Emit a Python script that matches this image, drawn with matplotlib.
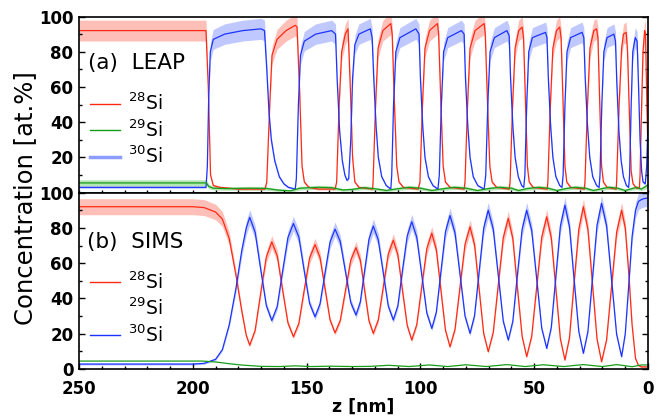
import numpy as np
import matplotlib
matplotlib.use("Agg")
import matplotlib.pyplot as plt
from matplotlib.lines import Line2D
from matplotlib.ticker import MultipleLocator

plt.rcParams['font.family'] = ['DejaVu Sans']

RED = '#ff2a14'
GREEN = '#189c18'
BLUE = '#1c34ff'
RED_BAND = '#ff8c80'
BLUE_BAND = '#8c9cff'
GREEN_BAND = '#7ad07a'

# ---- (a) LEAP ----
leap_z_28 = [250, 194.2, 193.2, 192.2, 191, 188, 180, 168.3,
             167.5, 166.2, 165.2, 163, 159, 155, 154.2, 153, 152, 151, 149, 145, 137.5,
             136.8, 135.7, 134.6, 133, 131.8, 130.8, 129.8, 128.8, 127, 121,
             120.8, 119.7, 118.6, 116.5, 113, 112.4, 111.4, 110.4, 109.4, 107.5, 101,
             100.2, 99.1, 98, 96, 92.5, 92, 91, 90, 89, 87, 80.8,
             80.4, 79.3, 78.2, 76, 72, 71.5, 70.5, 69.5, 68.5, 66.5, 61,
             60.6, 59.5, 58.4, 56.8, 55.3, 54.7, 53.8, 53, 52.2, 50.5, 44.3,
             44, 42.9, 41.8, 40.2, 38.8, 38.2, 37.3, 36.5, 35.7, 34, 28,
             27.7, 26.6, 25.5, 23.8, 22.6, 22, 21.2, 20.4, 19.6, 18, 14,
             13.8, 12.7, 11.6, 10.8, 9.6, 9, 8.2, 7.4, 6.6, 5, 3.8,
             3.5, 2.8, 2.2, 1.5, 1.1, 0.5, 0]
leap_v_28 = [92, 92, 60, 10, 4, 3, 2, 2,
             6, 50, 78, 87, 92, 95, 94, 55, 15, 6, 3, 2, 2,
             6, 50, 80, 90, 93, 60, 20, 6, 3, 2,
             6, 50, 82, 92, 96, 90, 50, 15, 6, 3, 2,
             6, 50, 82, 92, 96, 90, 50, 15, 6, 3, 2,
             6, 50, 82, 92, 96, 90, 50, 15, 6, 3, 2,
             6, 50, 82, 92, 94, 88, 50, 15, 6, 3, 2,
             6, 50, 82, 92, 94, 88, 50, 15, 6, 3, 2,
             6, 50, 82, 92, 93, 88, 50, 15, 6, 3, 2,
             6, 50, 82, 90, 91, 80, 45, 12, 5, 2.5, 2.5,
             10, 50, 80, 92, 90, 50, 20]

leap_z_30 = [250, 194.2, 193.6, 193, 192.3, 191, 186, 178, 170, 168.5, 167.5, 166.5, 165.5,
             164, 162, 160, 158, 155,
             154.5, 153.6, 152.7, 151, 146, 139, 137.3, 136.6, 135.5, 134.3, 133.2, 132.3,
             131.5, 130.6, 129.8, 128.8, 127, 122, 121.2, 120.5, 119.5, 118.5, 117, 115, 113,
             112.6, 111.8, 110.8, 109, 102, 100.6, 100, 99, 98, 96.5, 94.5, 92.3,
             91.7, 90.8, 89.8, 88, 82, 80.8, 80.2, 79.2, 78.2, 76.8, 74.8, 72,
             71.3, 70.4, 69.4, 67.5, 62, 61, 60.4, 59.4, 58.4, 57, 55.5, 54.6,
             54.1, 53.3, 52.4, 50.8, 45, 44.4, 43.8, 42.8, 41.8, 40.5, 38.8, 37.8,
             37.3, 36.5, 35.6, 34, 29, 28.2, 27.6, 26.6, 25.6, 24.3, 22.6, 21.5,
             21.1, 20.3, 19.4, 18, 15, 14.3, 13.7, 12.8, 11.8, 10.8, 9.5, 8.5,
             8.1, 7.4, 6.7, 5.6, 4.8, 4.2, 3.5, 2.8, 2.2, 1.2, 0.6, 0]
leap_v_30 = [3, 3, 15, 55, 80, 87, 90, 92, 93, 92, 70, 45, 30,
             18, 9, 5, 3, 2,
             8, 50, 78, 86, 90, 92, 90, 65, 35, 18, 10, 7,
             8, 30, 65, 84, 90, 93, 88, 65, 38, 20, 9, 4, 2,
             10, 50, 80, 88, 93, 90, 65, 38, 20, 9, 4, 2,
             10, 50, 80, 88, 92, 90, 65, 38, 20, 9, 4, 2,
             10, 50, 80, 88, 92, 89, 65, 38, 20, 9, 4, 3,
             10, 50, 80, 88, 91, 88, 65, 38, 20, 9, 4, 3,
             10, 50, 80, 88, 91, 88, 65, 38, 20, 9, 4, 3,
             10, 50, 80, 88, 90, 86, 62, 35, 18, 9, 4, 3,
             10, 50, 80, 88, 86, 62, 30, 12, 6, 5, 15, 40]

leap_z_29 = [250, 194, 193, 191, 185, 175, 168, 163, 157, 153, 145, 139, 134, 130, 125,
             120, 115, 111, 105, 100, 95, 90, 85, 80, 75, 70, 65, 60, 57, 53, 48, 44,
             40, 36, 32, 27.5, 24, 20, 17, 13.5, 10, 7, 5, 3, 1, 0]
leap_v_29 = [5.5, 5.5, 3.5, 2.5, 2.3, 2.5, 2.4, 1.5, 1.0, 2.5, 3, 2.8, 1.5, 1.8, 2.8,
             2.2, 1.2, 2, 3, 2.5, 1.2, 2.2, 3, 2.5, 1.2, 2.3, 3, 2.5, 1.2, 2.3, 3, 2.5,
             1.2, 2.3, 3, 2.5, 1.2, 2.3, 3, 2.5, 1.2, 2.3, 3, 2, 3.5, 4.5]

# ---- (b) SIMS ----
sims_z = [250, 200, 195, 190, 187, 184, 181, 178.5, 176.5, 175,
          172.6, 170.2, 167.7, 165.3, 162.9, 160.6, 158.2, 155.8,
          153.4, 151.1, 148.7, 146.3, 144.1, 141.9, 139.7, 137.5,
          135.2, 132.9, 130.6, 128.3, 126.4, 124.5, 122.6, 120.7,
          118.5, 116.3, 114.1, 111.9, 109.9, 107.9, 105.8, 103.8,
          101.6, 99.4, 97.2, 95, 93, 91, 89, 87,
          84.8, 82.6, 80.4, 78.2, 76.2, 74.2, 72.2, 70.2,
          68, 65.8, 63.6, 61.4, 59.4, 57.4, 55.3, 53.3,
          51.1, 48.9, 46.7, 44.5, 42.5, 40.5, 38.5, 36.5,
          34.5, 32.5, 30.4, 28.4, 26.4, 24.4, 22.4, 20.4,
          18.2, 16, 13.8, 11.6, 10, 8.5, 7, 5.5, 4.2, 3, 2, 0]
sims_28 = [92, 92, 91.5, 89, 85, 74, 53, 33, 19, 13.5,
           22.0, 42.8, 63.5, 72, 64.2, 45.2, 26.1, 18.3,
           25.9, 44.4, 62.9, 70.5, 63.2, 45.5, 27.8, 20.5,
           27.6, 44.7, 61.7, 68.8, 61.7, 44.5, 27.3, 20.2,
           27.9, 46.6, 65.3, 73, 64.7, 44.7, 24.7, 16.4,
           25.2, 46.7, 68.2, 77, 67.6, 44.8, 22.0, 12.6,
           22.5, 46.6, 70.7, 80.6, 70.3, 45.2, 20.1, 9.8,
           20.8, 47.6, 74.4, 85.4, 74.0, 46.2, 18.4, 7,
           18.6, 46.7, 74.7, 86.3, 74.4, 45.7, 17.0, 5.1,
           17.8, 48.6, 79.3, 92, 79.2, 48.1, 16.9, 4.1,
           16.6, 47.1, 77.5, 90, 80, 55, 25, 6, 2, 1.2, 1.2, 1.2]
sims_30 = [2.8, 2.8, 3.2, 5.5, 11, 25, 46, 67, 80, 86,
           77.5, 56.8, 36.0, 27.5, 35.5, 55, 74.5, 82.5,
           74.8, 56.1, 37.3, 29.6, 36.9, 54.5, 72.0, 79.3,
           72.2, 55.0, 37.7, 30.6, 38.0, 55.8, 73.6, 81,
           73.2, 54.4, 35.6, 27.8, 35.9, 55.7, 75.4, 83.5,
           74.7, 53.3, 31.8, 23, 32.3, 55, 77.7, 87,
           77.2, 53.6, 30.0, 20.2, 30.4, 55.1, 79.8, 90,
           79.3, 53.2, 27.1, 16.4, 27.1, 53.2, 79.3, 90,
           78.6, 50.9, 23.1, 11.7, 23.6, 52.3, 81.0, 92.9,
           80.6, 50.9, 21.2, 8.9, 21.3, 51.4, 81.5, 93.9,
           81.2, 50.5, 19.7, 7, 20, 47, 75, 90, 95, 96, 96.5, 97]
sims_z_29 = [250, 196, 190, 184, 178, 170, 162, 155, 148, 140, 130, 122, 114, 105, 96,
             88, 80, 71, 62, 54, 46, 37, 28.5, 20, 13.7, 7, 3, 0]
sims_29 = [4.5, 4.5, 4, 3, 2.2, 1.5, 1.4, 1.8, 1.4, 1.6, 1.4, 1.5, 2.1, 1.4, 2.3,
           1.4, 2.4, 1.4, 2.5, 1.4, 2.4, 1.4, 2.5, 1.4, 2.5, 1.3, 2.3, 2.3]


def draw(ax, z, v, color, band, rel, lw=0.9):
    z = np.asarray(z, float)
    v = np.asarray(v, float)
    err = rel * v + 0.4
    ax.fill_between(z, v - err, v + err, color=band, alpha=0.55, lw=0)
    ax.plot(z, v, color=color, lw=lw)


fig = plt.figure(figsize=(6.66, 4.2), dpi=100)
ax1 = fig.add_axes([0.1186, 0.5414, 0.8544, 0.4193])
ax2 = fig.add_axes([0.1186, 0.1214, 0.8544, 0.42])

draw(ax1, leap_z_28, leap_v_28, RED, RED_BAND, 0.06)
draw(ax1, leap_z_30, leap_v_30, BLUE, BLUE_BAND, 0.06)
draw(ax1, leap_z_29, leap_v_29, GREEN, GREEN_BAND, 0.25)

draw(ax2, sims_z, sims_28, RED, RED_BAND, 0.045)
draw(ax2, sims_z, sims_30, BLUE, BLUE_BAND, 0.045)
ax2.plot(sims_z_29, sims_29, color=GREEN, lw=0.9)

for ax in (ax1, ax2):
    ax.set_xlim(250, 0)
    ax.set_ylim(0, 100)
    ax.xaxis.set_major_locator(MultipleLocator(50))
    ax.xaxis.set_minor_locator(MultipleLocator(10))
    ax.yaxis.set_major_locator(MultipleLocator(20))
    ax.yaxis.set_minor_locator(MultipleLocator(10))
    ax.tick_params(which='both', direction='in', top=False, right=True, width=1)
    ax.tick_params(which='major', length=4)
    ax.tick_params(which='minor', length=2.5)
    ax.tick_params(axis='x', pad=8)
    ax.tick_params(axis='y', pad=4)
    for s in ax.spines.values():
        s.set_linewidth(1.2)
    for lab in ax.get_yticklabels() + ax.get_xticklabels():
        lab.set_fontweight('bold')
        lab.set_fontsize(12)

ax1.tick_params(axis='x', which='major', length=2.5)
ax1.set_xticklabels([])
ax1.set_yticks([20, 40, 60, 80, 100])
for lab in ax1.get_yticklabels():
    lab.set_fontweight('bold')
    lab.set_fontsize(12)

ax2.set_xlabel('z [nm]', fontsize=12.5, fontweight='bold', labelpad=0)
fig.text(0.037, 0.528, 'Concentration [at.%]', rotation=90, ha='center', va='center',
         fontsize=17.5)

ax1.text(0.016, 0.736, '(a)  LEAP', transform=ax1.transAxes, fontsize=15.5,
         ha='left', va='center')
ax2.text(0.0146, 0.721, '(b)  SIMS', transform=ax2.transAxes, fontsize=15.5,
         ha='left', va='center')

labels = ['$^{28}$Si', '$^{29}$Si', '$^{30}$Si']
h1 = [Line2D([], [], color=RED, lw=1), Line2D([], [], color=GREEN, lw=1),
      Line2D([], [], color=BLUE_BAND, lw=2.5)]
h2 = [Line2D([], [], color=RED, lw=1), Line2D([], [], color='none', lw=1),
      Line2D([], [], color=BLUE, lw=1)]
ax1.legend(h1, labels, loc='center left', bbox_to_anchor=(0.02, 0.356), frameon=False,
           fontsize=13.5, handlelength=1.6, handletextpad=0.4, labelspacing=0.27,
           borderaxespad=0, borderpad=0)
ax2.legend(h2, labels, loc='center left', bbox_to_anchor=(0.02, 0.344), frameon=False,
           fontsize=13.5, handlelength=1.6, handletextpad=0.4, labelspacing=0.27,
           borderaxespad=0, borderpad=0)

fig.savefig('out.png', dpi=100)
